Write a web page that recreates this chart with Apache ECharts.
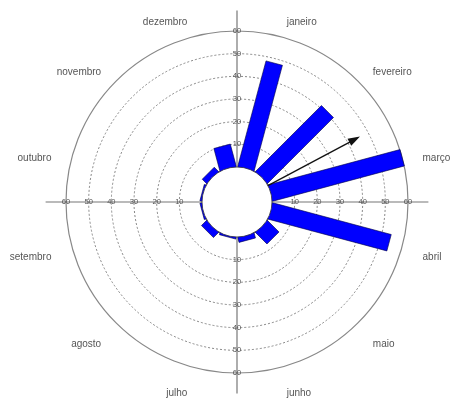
<!DOCTYPE html>
<html>
<head>
<meta charset="utf-8">
<script src="https://cdn.jsdelivr.net/npm/echarts@6/dist/echarts.min.js"></script>
<style>
  html, body { margin: 0; padding: 0; background: #fff; }
  #chart { width: 452px; height: 406px; }
</style>
</head>
<body>
<div id="chart"></div>
<script>
// monthly counts (rose diagram)
const months = ['janeiro', 'fevereiro', 'março', 'abril', 'maio', 'junho',
  'julho', 'agosto', 'setembro', 'outubro', 'novembro', 'dezembro'];
const counts = [48, 41, 60, 54, 7, 2, 0.5, 3, 0.5, 0.5, 2.5, 10];
const radiusTicks = [10, 20, 30, 40, 50, 60];
const axisDirections = [0, 90, 180, 270];   // degrees, clockwise from top
const meanAngle = 62;
const meanLength = 46;

const BAR_HALF = 8.5;      // bars are straight strips, not wedges
const AXIS_REACH = 69;     // axis lines run past the outer circle
const LABEL_R = 69.3;      // where the month names are anchored
const FONT = 'Liberation Sans, Arial, sans-serif';

const chart = echarts.init(document.getElementById('chart'));

// month i sits in the middle of its 30 degree sector
const barData = counts.map((v, i) => [v, 15 + 30 * i]);
const labelData = months.map((m, i) => [LABEL_R, 15 + 30 * i]);

function strip(c, p, half) {
  const dx = p[0] - c[0], dy = p[1] - c[1];
  const len = Math.hypot(dx, dy) || 1;
  const nx = -dy / len * half, ny = dx / len * half;
  return [[c[0] + nx, c[1] + ny], [p[0] + nx, p[1] + ny],
          [p[0] - nx, p[1] - ny], [c[0] - nx, c[1] - ny]];
}

const option = {
  backgroundColor: '#fff',
  animation: false,
  polar: { center: [237, 202], radius: [35, 171] },
  angleAxis: {
    type: 'value',
    min: -15,
    max: 345,
    interval: 30,
    startAngle: 105,
    clockwise: true,
    axisLine: { show: true, lineStyle: { color: '#888', width: 1.2 } },
    axisTick: { show: false },
    splitLine: { show: false },
    axisLabel: { show: false }
  },
  radiusAxis: {
    type: 'value',
    min: 0,
    max: 60,
    interval: 10,
    axisLine: { show: false },
    axisTick: { show: false },
    axisLabel: { show: false },
    splitLine: {
      show: true,
      lineStyle: {
        type: [2, 2],
        width: 1,
        color: ['rgba(0,0,0,0)', '#888', '#888', '#888', '#888', '#888', 'rgba(0,0,0,0)']
      }
    }
  },
  series: [
    {
      name: 'meses',
      type: 'custom',
      coordinateSystem: 'polar',
      z: 2,
      data: barData,
      renderItem: (params, api) => {
        const cs = params.coordSys;
        const p = api.coord([api.value(0), api.value(1)]);
        return {
          type: 'polygon',
          shape: { points: strip([cs.cx, cs.cy], p, BAR_HALF) },
          style: { fill: '#0000ff', stroke: '#000040', lineWidth: 0.6 }
        };
      }
    },
    {
      name: 'hole',
      type: 'custom',
      coordinateSystem: 'polar',
      z: 3,
      data: [[0, 0]],
      renderItem: (params) => {
        const cs = params.coordSys;
        return {
          type: 'circle',
          shape: { cx: cs.cx, cy: cs.cy, r: cs.r0 },
          style: { fill: '#fff', stroke: '#333', lineWidth: 0.8 }
        };
      }
    },
    {
      name: 'eixos',
      type: 'custom',
      coordinateSystem: 'polar',
      z: 4,
      data: axisDirections.map((a) => [0, a]),
      renderItem: (params, api) => {
        const a = api.value(1);
        const p0 = api.coord([0, a]);
        const p1 = api.coord([AXIS_REACH, a]);
        const children = [{
          type: 'line',
          shape: { x1: p0[0], y1: p0[1], x2: p1[0], y2: p1[1] },
          style: { stroke: '#777', lineWidth: 1.2 }
        }];
        radiusTicks.forEach((t) => {
          const q = api.coord([t, a]);
          children.push({
            type: 'text',
            x: q[0], y: q[1],
            style: {
              text: String(t), fill: '#555', fontSize: 7.5, fontFamily: FONT,
              align: 'center', verticalAlign: 'middle'
            }
          });
        });
        return { type: 'group', children };
      }
    },
    {
      name: 'rotulos',
      type: 'custom',
      coordinateSystem: 'polar',
      z: 4,
      data: labelData,
      renderItem: (params, api) => {
        const a = api.value(1);
        const q = api.coord([api.value(0), a]);
        return {
          type: 'text',
          x: q[0], y: q[1] + 6,
          style: {
            text: months[params.dataIndex], fill: '#555', fontSize: 10, fontFamily: FONT,
            align: a < 180 ? 'left' : 'right', verticalAlign: 'middle'
          }
        };
      }
    },
    {
      name: 'media',
      type: 'custom',
      coordinateSystem: 'polar',
      z: 5,
      data: [[meanLength, meanAngle]],
      renderItem: (params, api) => {
        const p0 = api.coord([0, api.value(1)]);
        const p1 = api.coord([api.value(0), api.value(1)]);
        const dx = p1[0] - p0[0], dy = p1[1] - p0[1];
        const len = Math.hypot(dx, dy);
        const ux = dx / len, uy = dy / len;
        const hl = 12, hw = 4;
        const bx = p1[0] - ux * hl, by = p1[1] - uy * hl;
        return {
          type: 'group',
          children: [
            {
              type: 'line',
              shape: { x1: p0[0], y1: p0[1], x2: bx + ux * 2, y2: by + uy * 2 },
              style: { stroke: '#111', lineWidth: 1.3 }
            },
            {
              type: 'polygon',
              shape: { points: [[p1[0], p1[1]], [bx - uy * hw, by + ux * hw], [bx + uy * hw, by - ux * hw]] },
              style: { fill: '#111' }
            }
          ]
        };
      }
    }
  ]
};

chart.setOption(option);
</script>
</body>
</html>
